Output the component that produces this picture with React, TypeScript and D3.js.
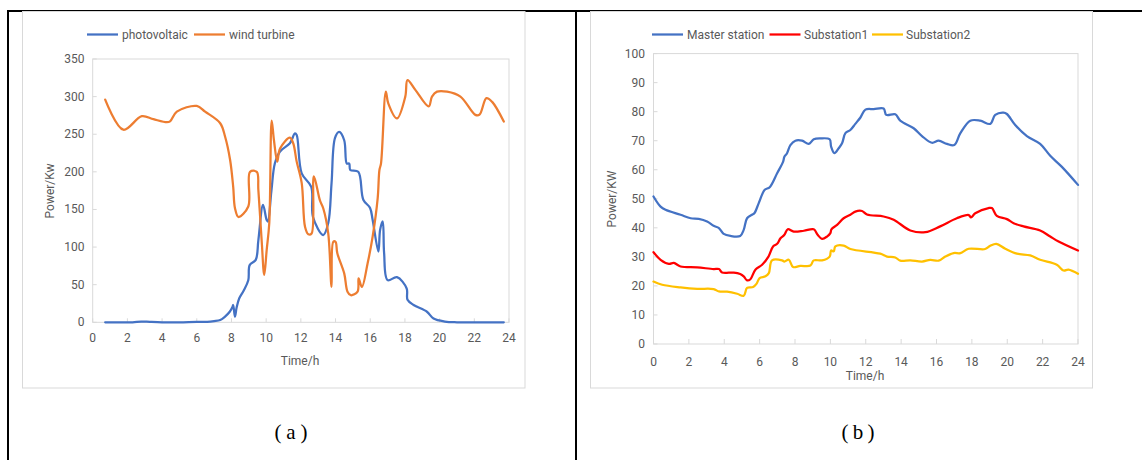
import React from "react";
import * as d3 from "d3";

// ---------- Data: chart (a) ----------
const pvTime = [0.72, 1.5, 2.3, 2.8, 3.3, 4, 5, 6, 6.6, 7.0, 7.35, 7.6, 7.9, 8.05, 8.1, 8.2, 8.3, 8.45, 8.7, 8.97, 9.05, 9.4, 9.55, 9.82, 10.03, 10.1, 10.3, 10.5, 10.8, 11.37, 11.66, 11.76, 12.05, 12.6, 12.7, 13.29, 13.58, 13.77, 13.97, 14.21, 14.5, 14.65, 14.79, 14.85, 15.31, 15.6, 15.99, 16.14, 16.47, 16.57, 16.72, 16.8, 17.0, 17.54, 18.1, 18.15, 18.5, 19.27, 19.65, 20.3, 21, 22.3, 23.7];
const pvValue = [0, 0, 0, 1, 0.5, 0, 0, 0.5, 0.5, 1.5, 3, 7, 14, 20, 23, 7.5, 20, 32, 42, 56, 76, 83, 109, 156, 136, 134, 174, 211, 227, 238, 251, 249, 198, 180, 140, 116, 132, 185, 245, 253, 242, 211, 211, 202.5, 200, 163, 152, 136, 94, 123, 134, 92, 56, 60, 45, 30, 23, 14, 5, 1, 0, 0, 0];

const wtTime = [0.72, 1.77, 2.83, 3.5, 4.27, 4.46, 4.85, 6.0, 6.48, 7.35, 7.63, 7.92, 8.1, 8.2, 8.4, 8.97, 9.07, 9.46, 9.55, 9.74, 9.89, 10.03, 10.18, 10.32, 10.45, 10.64, 10.8, 11.37, 11.56, 11.76, 12.05, 12.24, 12.43, 12.62, 12.75, 13.1, 13.29, 13.58, 13.77, 13.87, 14.0, 14.1, 14.5, 14.69, 14.88, 15.27, 15.33, 15.52, 15.85, 16.14, 16.43, 16.53, 16.62, 16.9, 17.04, 17.54, 18.02, 18.15, 18.6, 19.37, 19.56, 19.85, 20.43, 21.2, 22.06, 22.3, 22.7, 23.03, 23.7];
const wtValue = [296, 256, 274, 270, 266, 267, 280, 287.6, 280, 264.6, 247, 216, 180, 152, 140, 154, 200, 200, 176, 109, 63, 96, 132, 268, 242, 213.6, 231, 245.5, 238, 213.6, 185, 127, 117, 118, 194, 162, 151.6, 118, 47, 107, 107, 92, 65, 40.7, 36, 40.7, 58.5, 47, 78.5, 114, 165, 202.5, 211, 306.6, 291, 271, 300, 322, 309, 287, 300, 306.6, 306.6, 300, 275.7, 276, 298, 293, 266.8];

// ---------- Data: chart (b) ----------
const msTime = [0, 0.4, 0.68, 1.53, 2.1, 2.56, 3.03, 3.4, 3.7, 3.97, 4.35, 4.9, 5.1, 5.29, 5.57, 5.7, 5.95, 6.29, 6.57, 6.99, 7.33, 7.4, 7.55, 7.74, 8.02, 8.4, 8.78, 9.06, 9.43, 9.96, 10.04, 10.23, 10.47, 10.66, 10.85, 11.13, 11.41, 11.7, 11.98, 12.45, 13.01, 13.16, 13.67, 13.95, 14.71, 15.18, 15.74, 16.12, 16.59, 17.0, 17.35, 17.91, 18.47, 19.04, 19.32, 19.79, 19.98, 20.45, 21.11, 21.86, 22.43, 23.09, 24];
const msValue = [50.8, 47.3, 46.2, 44.5, 43.3, 43.1, 42.2, 40.7, 39.9, 37.9, 37.2, 37.2, 39.3, 43.3, 44.5, 45, 48.5, 53.1, 54, 58.8, 62.8, 64.5, 65.7, 68.5, 70, 70, 68.9, 70.5, 70.8, 70.5, 68, 65.7, 67.4, 69.1, 72.6, 73.7, 75.8, 78, 80.7, 80.9, 81.1, 78.9, 79.1, 76.9, 74.3, 71.6, 69.3, 70, 68.9, 68.5, 72.6, 76.9, 76.9, 75.8, 78.9, 79.7, 79.2, 75.4, 71.6, 68.9, 64.8, 61, 54.8];

const s1Time = [0, 0.4, 0.87, 1.15, 1.53, 2.47, 3.4, 3.7, 3.88, 4.54, 4.9, 5.1, 5.29, 5.48, 5.76, 6.14, 6.5, 6.76, 6.99, 7.18, 7.4, 7.59, 7.93, 8.5, 9.06, 9.28, 9.53, 9.81, 10.0, 10.06, 10.38, 10.75, 11.13, 11.41, 11.79, 12.07, 13.01, 13.58, 14.52, 15.37, 16.21, 17.15, 17.82, 17.95, 18.19, 18.94, 19.13, 19.41, 19.98, 20.36, 20.92, 21.86, 22.43, 22.9, 24];
const s1Value = [31.6, 29, 27.6, 27.9, 26.7, 26.4, 25.8, 25.8, 24.6, 24.6, 24.1, 23.3, 21.9, 22.3, 25.6, 27.3, 30.1, 33.6, 34.5, 36.4, 37.6, 39.5, 38.7, 39, 39.5, 37.6, 36.2, 37, 38.2, 39.5, 41, 43.3, 44.5, 45.6, 45.8, 44.6, 43.9, 42.8, 39.1, 38.5, 40.5, 43.3, 44.4, 43.6, 45, 46.8, 46.8, 44.1, 43, 41.6, 40.5, 39.1, 37, 35.3, 32.2];

const s2Time = [0, 0.49, 1.53, 2.47, 3.4, 3.7, 4.16, 4.73, 5.1, 5.29, 5.63, 5.82, 6.0, 6.33, 6.52, 6.7, 7.27, 7.4, 7.65, 7.89, 8.3, 8.87, 9.06, 9.53, 9.96, 10.04, 10.19, 10.28, 10.75, 11.13, 12.82, 13.2, 13.67, 13.95, 14.52, 15.18, 15.65, 16.12, 16.5, 16.97, 17.35, 17.82, 18.75, 19.04, 19.38, 19.89, 20.55, 21.3, 21.86, 22.8, 23.18, 23.46, 24];
const s2Value = [21.5, 20.4, 19.5, 19, 18.9, 18.1, 18, 17.3, 16.6, 19.3, 19.6, 20.7, 22.7, 23.3, 24.4, 28.8, 28.8, 28.4, 29, 26.5, 26.9, 27, 28.8, 28.8, 30.1, 32.2, 31.9, 33.6, 33.9, 32.7, 31.1, 30.1, 29.8, 28.7, 28.8, 28.4, 29, 28.7, 30.1, 31.3, 31.3, 32.8, 32.7, 33.8, 34.5, 32.8, 31.1, 30.5, 29, 27.3, 25.3, 25.6, 24.2];

const xTicks = [0, 2, 4, 6, 8, 10, 12, 14, 16, 18, 20, 22, 24];
const aYTicks = [0, 50, 100, 150, 200, 250, 300, 350];
const bYTicks = [0, 10, 20, 30, 40, 50, 60, 70, 80, 90, 100];

const aLegend = ["photovoltaic", "wind turbine"];
const bLegend = ["Master station", "Substation1", "Substation2"];
const captions = ["a", "b"];

// ---------- Styling ----------
const FONT = "Roboto, 'Liberation Sans', sans-serif";
const TXT = "#595959";
const GRID = "#d9d9d9";
const BLUE = "#4472C4";
const ORANGE = "#ED7D31";
const RED = "#FF0000";
const YELLOW = "#FFC000";
const SERIF = "'Liberation Serif', 'DejaVu Serif', serif";

type Series = { t: number[]; v: number[]; color: string };

function Chart(props: {
  x0: number; x1: number; y0: number; y1: number;
  yMax: number; yTicks: number[];
  series: Series[];
  xLabelY: number; yLabelRight: number;
  yTitle: string; yTitleX: number; yTitleY: number;
  xTitleX: number; xTitleY: number;
  tickLen: number;
}) {
  const { x0, x1, y0, y1, yMax, yTicks, series } = props;
  const x = d3.scaleLinear().domain([0, 24]).range([x0, x1]);
  const y = d3.scaleLinear().domain([0, yMax]).range([y1, y0]);
  const line = d3
    .line<[number, number]>()
    .x((d) => x(d[0]))
    .y((d) => y(d[1]))
    .curve(d3.curveCatmullRom.alpha(0.5));
  return (
    <g>
      <rect x={x0} y={y0} width={x1 - x0} height={y1 - y0} fill="none" stroke={GRID} strokeWidth={1} />
      {xTicks.map((t) => (
        <g key={"xt" + t}>
          <line x1={x(t)} x2={x(t)} y1={y1} y2={y1 - props.tickLen} stroke={GRID} strokeWidth={1} />
          <text x={x(t)} y={props.xLabelY} fill={TXT} fontSize={12} fontFamily={FONT} textAnchor="middle" dominantBaseline="central">{t}</text>
        </g>
      ))}
      {yTicks.map((v) => (
        <g key={"yt" + v}>
          <line x1={x0} x2={x0 + 4} y1={y(v)} y2={y(v)} stroke={GRID} strokeWidth={1} />
          <text x={props.yLabelRight} y={y(v)} fill={TXT} fontSize={12} fontFamily={FONT} textAnchor="end" dominantBaseline="central">{v}</text>
        </g>
      ))}
      {series.map((s, i) => (
        <path
          key={"s" + i}
          d={line(s.t.map((t, j) => [t, s.v[j]] as [number, number])) || ""}
          fill="none"
          stroke={s.color}
          strokeWidth={2.25}
          strokeLinejoin="round"
          strokeLinecap="round"
        />
      ))}
      <text
        transform={`translate(${props.yTitleX},${props.yTitleY}) rotate(-90)`}
        fill={TXT} fontSize={12} fontFamily={FONT} textAnchor="middle" dominantBaseline="central"
      >{props.yTitle}</text>
      <text x={props.xTitleX} y={props.xTitleY} fill={TXT} fontSize={12} fontFamily={FONT} textAnchor="middle" dominantBaseline="central">Time/h</text>
    </g>
  );
}

function Legend(props: { items: { label: string; color: string; lx: number; tx: number }[]; y: number }) {
  return (
    <g>
      {props.items.map((it) => (
        <g key={it.label}>
          <line x1={it.lx} x2={it.lx + 31} y1={props.y} y2={props.y} stroke={it.color} strokeWidth={2.25} />
          <text x={it.tx} y={props.y} fill={TXT} fontSize={12} fontFamily={FONT} dominantBaseline="central">{it.label}</text>
        </g>
      ))}
    </g>
  );
}

function Caption(props: { cx: number; y: number; letter: string }) {
  const common = { fill: "#000", textAnchor: "middle" as const, dominantBaseline: "central" as const, fontFamily: SERIF };
  return (
    <g>
      <text x={props.cx - 13} y={props.y} fontSize={21} {...common}>(</text>
      <text x={props.cx} y={props.y} fontSize={21} {...common}>{props.letter}</text>
      <text x={props.cx + 13} y={props.y} fontSize={21} {...common}>)</text>
    </g>
  );
}

export default function App() {
  return (
    <svg width={1142} height={460} style={{ position: "absolute", left: 0, top: 0, background: "#fff" }}>
      <rect x={0} y={0} width={1142} height={460} fill="#fff" />
      {/* outer table lines */}
      <line x1={8} x2={1142} y1={11} y2={11} stroke="#000" strokeWidth={2} />
      <line x1={8} x2={8} y1={10} y2={460} stroke="#000" strokeWidth={2} />
      <line x1={576} x2={576} y1={10} y2={460} stroke="#000" strokeWidth={2} />

      {/* panel (a) */}
      <rect x={22.5} y={11.5} width={502.5} height={376.5} fill="#fff" stroke={GRID} strokeWidth={1} />
      <Legend
        y={34.5}
        items={[
          { label: aLegend[0], color: BLUE, lx: 87, tx: 122 },
          { label: aLegend[1], color: ORANGE, lx: 194, tx: 229 },
        ]}
      />
      <Chart
        x0={92.7} x1={509} y0={59} y1={322.3}
        yMax={350} yTicks={aYTicks}
        series={[
          { t: pvTime, v: pvValue, color: BLUE },
          { t: wtTime, v: wtValue, color: ORANGE },
        ]}
        xLabelY={338} yLabelRight={84.5}
        yTitle="Power/Kw" yTitleX={50} yTitleY={191}
        xTitleX={300} xTitleY={361}
        tickLen={4}
      />

      {/* panel (b) */}
      <rect x={590.5} y={11.5} width={502} height={376.5} fill="#fff" stroke={GRID} strokeWidth={1} />
      <Legend
        y={34.5}
        items={[
          { label: bLegend[0], color: BLUE, lx: 652, tx: 687 },
          { label: bLegend[1], color: RED, lx: 769.5, tx: 804 },
          { label: bLegend[2], color: YELLOW, lx: 872, tx: 906 },
        ]}
      />
      <Chart
        x0={653.5} x1={1078} y0={53.6} y1={344}
        yMax={100} yTicks={bYTicks}
        series={[
          { t: msTime, v: msValue, color: BLUE },
          { t: s1Time, v: s1Value, color: RED },
          { t: s2Time, v: s2Value, color: YELLOW },
        ]}
        xLabelY={361.5} yLabelRight={645}
        yTitle="Power/KW" yTitleX={612} yTitleY={199}
        xTitleX={865} xTitleY={376}
        tickLen={5}
      />

      {/* captions */}
      <Caption cx={291} y={432} letter={captions[0]} />
      <Caption cx={858} y={432} letter={captions[1]} />
    </svg>
  );
}
